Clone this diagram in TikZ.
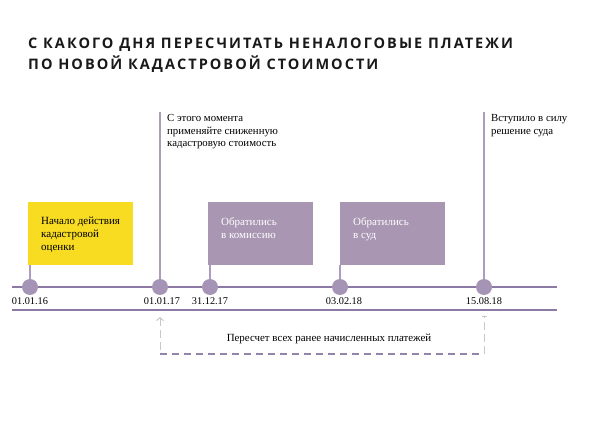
\documentclass[tikz,border=0pt]{standalone}
\usepackage{fontspec}
\setmainfont{Liberation Serif}
\newfontfamily\titlefont[LetterSpace=14]{Open Sans}
\usetikzlibrary{arrows.meta}
\definecolor{tileyellow}{HTML}{F8DC22}
\definecolor{tilepurple}{HTML}{A896B2}
\definecolor{dotpurple}{HTML}{A594B5}
\definecolor{linepurple}{HTML}{8C79A4}
\definecolor{stempurple}{HTML}{AC9DBE}
\definecolor{dashgray}{HTML}{C9C6D0}
\definecolor{dashpurple}{HTML}{9584AA}
\begin{document}
\begin{tikzpicture}[x=1pt, y=-1pt,
	dot/.style={circle, fill=dotpurple, minimum size=16pt, inner sep=0},
	tile/.style={minimum width=105pt, minimum height=63pt, inner sep=0, anchor=north west},
	tiletext/.style={anchor=north west, inner sep=0, align=left, font=\fontsize{11}{13}\selectfont},
	note/.style={anchor=north west, inner sep=0, align=left, font=\fontsize{10.8}{12.5}\selectfont},
	datelabel/.style={anchor=base, inner sep=0, font=\fontsize{10.3}{12}\selectfont},
	stem/.style={draw=stempurple, line width=1.2pt},
	tline/.style={draw=linepurple, line width=2pt}]
	\useasboundingbox (0, 0) rectangle (600, 444);

	% \drawtile#name#x#fill#textcolor#text
	\def\drawtile#1#2#3#4#5{
		\node[tile, fill=#3] (#1) at (#2, 202) {};
		\node[tiletext, text=#4] (#1-text) at ([xshift=13pt, yshift=-15pt]#1.north west) {#5};
	}

	% title
	\node[anchor=north west, inner sep=0, align=left, text=black!90,
		font=\titlefont\bfseries\fontsize{14.5}{21}\selectfont] (title) at (28, 38)
		{С КАКОГО ДНЯ ПЕРЕСЧИТАТЬ НЕНАЛОГОВЫЕ ПЛАТЕЖИ\\ПО НОВОЙ КАДАСТРОВОЙ СТОИМОСТИ};

	% timeline
	\coordinate (tl-w) at (12, 287);
	\coordinate (tl-e) at (557, 287);
	\coordinate (bl-w) at (12, 310);
	\coordinate (bl-e) at (557, 310);
	\draw[tline] (tl-w) -- (tl-e);
	\draw[tline] (bl-w) -- (bl-e);

	% dates
	\foreach \x/\lx/\name/\date in {30/30/d1/01.01.16, 160/162/d2/01.01.17, 210/210/d3/31.12.17, 340/344/d4/03.02.18, 484/484/d5/15.08.18} {
		\node[dot] (\name) at (\x, 287) {};
		\node[datelabel] (\name-date) at (\lx, 304) {\date};
	}

	% tiles
	\drawtile{start}{28}{tileyellow}{black}{Начало действия\\кадастровой\\оценки}
	\drawtile{commission}{208}{tilepurple}{white}{Обратились\\в комиссию}
	\drawtile{court}{340}{tilepurple}{white}{Обратились\\в суд}
	\draw[stem] (d1.north) -- (d1 |- start.south);
	\draw[stem] (d3.north) -- (d3 |- commission.south);
	\draw[stem] (d4.north) -- (d4 |- court.south);

	% marks
	\coordinate (m2) at (160, 112);
	\coordinate (m5) at (484, 112);
	\draw[stem] (d2.north) -- (m2);
	\draw[stem] (d5.north) -- (m5);
	\node[note] (reduced) at (167, 114.5) {С этого момента\\применяйте сниженную\\кадастровую стоимость};
	\node[note] (decision) at (491, 114.5) {Вступило в силу\\решение суда};

	% recalculation
	\coordinate (r-w) at (160, 317);
	\coordinate (r-sw) at (160, 354);
	\coordinate (r-se) at (484, 354);
	\coordinate (r-e) at (484, 316);
	\draw[dashgray, line width=1pt, dash pattern=on 8pt off 4pt, {Straight Barb[length=3pt, width=7pt]}-] (r-w) -- (r-sw);
	\draw[dashpurple, line width=1.2pt, dash pattern=on 7pt off 5pt] (r-sw) -- (r-se);
	\draw[dashgray, line width=1pt, dash pattern=on 8pt off 4pt, -{Bar[width=5pt]}] (r-se) -- (r-e);
	\node[datelabel, font=\fontsize{10.9}{12}\selectfont] (recalc) at (329, 341) {Пересчет всех ранее начисленных платежей};
\end{tikzpicture}
\end{document}
